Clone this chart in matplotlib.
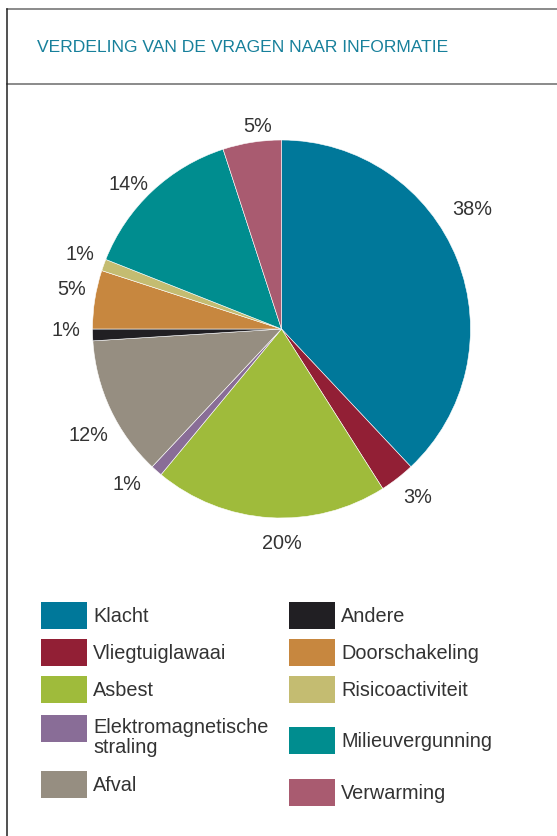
import matplotlib.pyplot as plt
from matplotlib.patches import Rectangle
from matplotlib.lines import Line2D

plt.rcParams['font.family'] = ['Liberation Sans', 'DejaVu Sans']

# data
categorieen = ['Klacht', 'Vliegtuiglawaai', 'Asbest', 'Elektromagnetische\nstraling', 'Afval',
               'Andere', 'Doorschakeling', 'Risicoactiviteit', 'Milieuvergunning', 'Verwarming']
percentages = [38, 3, 20, 1, 12, 1, 5, 1, 14, 5]
kleuren = ['#00789a', '#921f35', '#9fbb3b', '#896d97', '#968e81',
           '#211f23', '#c7873f', '#c4bc71', '#008d8f', '#a95b70']

# label positions in pie units (radius = 1)
label_pos = [(1.01, 0.635), (0.72, -0.884), (0.0, -1.127), (-0.817, -0.82), (-1.024, -0.556),
             (-1.14, -0.005), (-1.108, 0.212), (-1.066, 0.397), (-0.812, 0.772), (-0.124, 1.079)]

W, H = 557, 837
fig = plt.figure(figsize=(W / 100, H / 100), dpi=100)

def px(x, y):
    # pixel coords (top-left origin) -> figure fraction
    return x / W, 1 - y / H

# kader
lijn = '#6b6b6b'
fig.add_artist(Line2D([7 / W, 1], [1 - 9.5 / H] * 2, color=lijn, lw=1.1))
fig.add_artist(Line2D([7 / W, 1], [1 - 84.5 / H] * 2, color=lijn, lw=1.1))
fig.add_artist(Line2D([7 / W] * 2, [0, 1 - 9.5 / H], color='#222222', lw=1.1))

fig.text(*px(37, 48), 'VERDELING VAN DE VRAGEN NAAR INFORMATIE', color='#17809b',
         fontsize=12.6, va='center', ha='left')

# taart
cx, cy, r = 281.5, 330, 189
span = 2.6 * r
ax = fig.add_axes([(cx - span / 2) / W, 1 - (cy + span / 2) / H, span / W, span / H])
ax.pie(percentages, colors=kleuren, startangle=90, counterclock=False,
       wedgeprops=dict(edgecolor='white', linewidth=0.4))
ax.set_xlim(-1.3, 1.3)
ax.set_ylim(-1.3, 1.3)
ax.set_aspect('equal')
ax.axis('off')
for p, (lx, ly) in zip(percentages, label_pos):
    ax.text(lx, ly, f'{p}%', ha='center', va='center', fontsize=14.3, color='#333333')

# legenda
kol_x = [41, 289]
rij_y = [[616.5, 653.5, 690.5, 729.5, 785.5], [616.5, 653.5, 690.5, 741.5, 793.5]]
for i, (naam, kleur) in enumerate(zip(categorieen, kleuren)):
    k, j = divmod(i, 5)
    x0, yc = kol_x[k], rij_y[k][j]
    fig.add_artist(Rectangle(px(x0, yc + 13.5), 46 / W, 27 / H, color=kleur, lw=0))
    ty = yc + 8 if '\n' in naam else yc
    fig.text(*px(x0 + 52, ty), naam, color='#333333', fontsize=14.3, va='center', ha='left',
             linespacing=1.05)

fig.savefig('out.png', dpi=100)
